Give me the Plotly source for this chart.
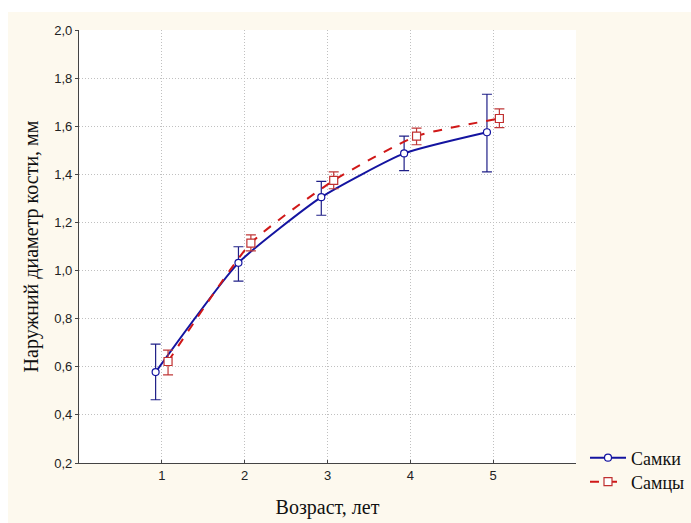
import plotly.graph_objects as go

ages = [1, 2, 3, 4, 5]
offset_f = -0.075
offset_m = 0.075

females_mean = [0.578, 1.032, 1.305, 1.487, 1.575]
females_err_up = [0.116, 0.067, 0.066, 0.072, 0.158]
females_err_dn = [0.115, 0.076, 0.075, 0.072, 0.165]

males_mean = [0.622, 1.114, 1.375, 1.559, 1.632]
males_err_up = [0.047, 0.034, 0.035, 0.033, 0.040]
males_err_dn = [0.056, 0.032, 0.035, 0.036, 0.038]

y_ticks = [0.2, 0.4, 0.6, 0.8, 1.0, 1.2, 1.4, 1.6, 1.8, 2.0]
y_ticktext = ["0,2", "0,4", "0,6", "0,8", "1,0", "1,2", "1,4", "1,6", "1,8", "2,0"]

W, H = 691, 523
L, R, T, B = 79, 576, 30, 463
pw, ph = R - L, B - T

def px(x):
    return (x - L) / pw

def py(y):
    return (B - y) / ph

serif = "Liberation Serif, Times New Roman, serif"
sans = "Liberation Sans Narrow, Arial Narrow, Liberation Sans, Arial, sans-serif"

fig = go.Figure()

fig.add_trace(go.Scatter(
    x=[a + offset_f for a in ages], y=females_mean, name="Самки",
    mode="lines+markers", legend="legend",
    line=dict(color="#1414a0", width=2, shape="spline", smoothing=0.5),
    marker=dict(symbol="circle", size=7, color="white", line=dict(color="#1414a0", width=1.2)),
    error_y=dict(type="data", symmetric=False, array=females_err_up, arrayminus=females_err_dn,
                 color="#202088", thickness=1.2, width=5),
))

fig.add_trace(go.Scatter(
    x=[a + offset_m for a in ages], y=males_mean, name="Самцы",
    mode="lines+markers", legend="legend2",
    line=dict(color="#d01818", width=2, dash="dash", shape="spline", smoothing=0.5),
    marker=dict(symbol="square", size=8, color="white", line=dict(color="#c03030", width=1.2)),
    error_y=dict(type="data", symmetric=False, array=males_err_up, arrayminus=males_err_dn,
                 color="#c03838", thickness=1.2, width=5),
))

shapes = [
    dict(type="rect", xref="paper", yref="paper", x0=px(0), x1=px(8), y0=py(H), y1=py(0),
         fillcolor="white", line=dict(width=0), layer="below"),
    dict(type="rect", xref="paper", yref="paper", x0=px(0), x1=px(W), y0=py(12), y1=py(0),
         fillcolor="white", line=dict(width=0), layer="below"),
]

legend_common = dict(xanchor="left", yanchor="middle",
                     font=dict(family=serif, size=18, color="#111"),
                     bgcolor="rgba(0,0,0,0)", itemwidth=36)

fig.update_layout(
    width=W, height=H,
    margin=dict(l=L, r=W - R, t=T, b=H - B, autoexpand=False),
    paper_bgcolor="#fdf9ee",
    plot_bgcolor="white",
    shapes=shapes,
    showlegend=True,
    legend=dict(x=px(585), y=py(458), **legend_common),
    legend2=dict(x=px(585), y=py(482), **legend_common),
    xaxis=dict(
        range=[0, 6], tickvals=ages, ticktext=[str(a) for a in ages],
        showgrid=True, gridcolor="#c0c0c0", griddash="1px,2px", gridwidth=1,
        showline=True, linecolor="#444", linewidth=1.2,
        ticks="inside", ticklen=3, tickcolor="#444",
        tickfont=dict(family=sans, size=13, color="#222"),
        title=dict(text="Возраст, лет", font=dict(family=serif, size=20, color="#111"), standoff=18),
        zeroline=False,
    ),
    yaxis=dict(
        range=[0.2, 2.0], tickvals=y_ticks, ticktext=y_ticktext,
        showgrid=True, gridcolor="#c0c0c0", griddash="1px,2px", gridwidth=1,
        showline=True, linecolor="#444", linewidth=1.2,
        ticks="outside", ticklen=3, tickcolor="#444",
        tickfont=dict(family=sans, size=13, color="#222"),
        title=dict(text="Наружний диаметр кости, мм", font=dict(family=serif, size=20, color="#111"), standoff=10),
        zeroline=False,
    ),
)

fig.write_html("out.html")
